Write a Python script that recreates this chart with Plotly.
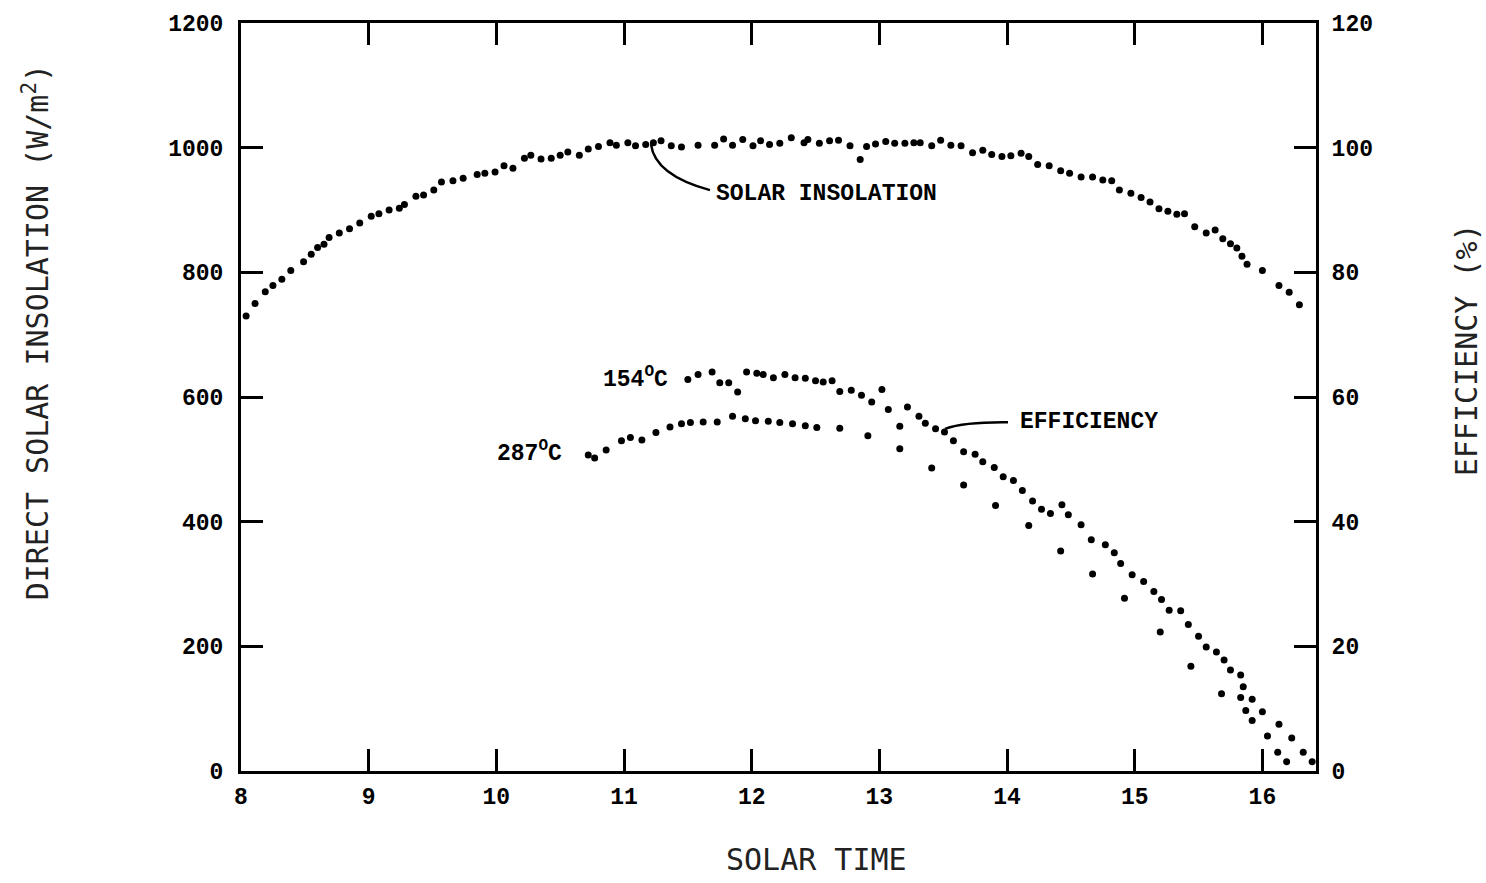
import plotly.graph_objects as go

# ---------------- data ----------------
ins_time = [8.04, 8.11, 8.19, 8.25, 8.32, 8.39, 8.49, 8.55, 8.60, 8.65,
            8.69, 8.77, 8.85, 8.93, 9.02, 9.08, 9.16, 9.24, 9.28, 9.37,
            9.43, 9.51, 9.57, 9.66, 9.74, 9.85, 9.91, 9.99, 10.06, 10.13,
            10.22, 10.27, 10.35, 10.43, 10.50, 10.56, 10.65, 10.72, 10.80, 10.89,
            10.94, 11.03, 11.09, 11.17, 11.23, 11.29, 11.37, 11.45, 11.58, 11.71,
            11.78, 11.85, 11.93, 12.01, 12.07, 12.14, 12.22, 12.31, 12.41, 12.44,
            12.53, 12.61, 12.68, 12.77, 12.85, 12.90, 12.97, 13.05, 13.12, 13.20,
            13.27, 13.32, 13.41, 13.48, 13.56, 13.64, 13.73, 13.81, 13.88, 13.96,
            14.03, 14.11, 14.17, 14.24, 14.33, 14.42, 14.49, 14.58, 14.67, 14.75,
            14.82, 14.88, 14.97, 15.05, 15.12, 15.19, 15.26, 15.33, 15.39, 15.47,
            15.56, 15.63, 15.69, 15.75, 15.80, 15.84, 15.88, 16.00, 16.13, 16.21, 16.29]
ins_value = [730, 750, 769, 779, 789, 803, 817, 829, 840, 845,
             856, 863, 870, 879, 890, 894, 900, 903, 909, 922,
             924, 932, 945, 947, 951, 957, 959, 961, 971, 967,
             983, 988, 982, 983, 988, 993, 988, 998, 1002, 1008,
             1004, 1008, 1003, 1005, 1008, 1011, 1003, 1001, 1004, 1004,
             1014, 1004, 1013, 1003, 1011, 1005, 1007, 1016, 1008, 1013,
             1007, 1011, 1012, 1003, 981, 1002, 1006, 1010, 1007, 1007,
             1008, 1008, 1003, 1012, 1004, 1003, 992, 996, 989, 986,
             987, 991, 986, 973, 971, 963, 959, 953, 953, 948,
             947, 932, 927, 920, 913, 902, 898, 893, 894, 873,
             863, 868, 854, 846, 839, 826, 813, 803, 779, 768, 748]

eff154_time = [11.50, 11.58, 11.69, 11.75, 11.82, 11.89, 11.96, 12.04, 12.09, 12.17,
               12.26, 12.34, 12.42, 12.50, 12.56, 12.63, 12.69, 12.78, 12.86, 12.94,
               13.02, 13.07, 13.16, 13.22, 13.31, 13.36, 13.44, 13.51, 13.58, 13.66,
               13.75, 13.81, 13.90, 13.97, 14.05, 14.12, 14.20, 14.27, 14.34, 14.43,
               14.48, 14.58, 14.66, 14.77, 14.84, 14.89, 14.98, 15.07, 15.15, 15.21,
               15.27, 15.36, 15.42, 15.50, 15.56, 15.64, 15.70, 15.75, 15.83, 15.85,
               15.92, 16.00, 16.13, 16.23, 16.32, 16.39]
eff154_value = [62.8, 63.6, 64.0, 62.3, 62.3, 60.8, 64.0, 63.8, 63.6, 63.1,
                63.6, 63.1, 63.0, 62.6, 62.4, 62.6, 60.9, 61.1, 60.3, 59.2,
                61.2, 58.0, 55.3, 58.4, 56.9, 55.8, 54.9, 54.4, 53.0, 51.2,
                50.8, 49.6, 48.7, 47.2, 46.6, 45.0, 43.3, 42.0, 41.3, 42.7,
                41.1, 39.5, 37.1, 36.3, 35.0, 33.3, 31.5, 30.4, 28.8, 27.5,
                25.8, 25.7, 23.5, 21.6, 19.9, 19.1, 17.8, 16.2, 15.4, 13.5,
                11.5, 9.5, 7.5, 5.3, 3.0, 1.5]

eff287_time = [10.72, 10.77, 10.86, 10.98, 11.05, 11.14, 11.25, 11.36, 11.45, 11.52,
               11.62, 11.73, 11.85, 11.95, 12.03, 12.13, 12.22, 12.32, 12.42, 12.51,
               12.69, 12.91, 13.16, 13.41, 13.66, 13.91, 14.17, 14.42, 14.67, 14.92,
               15.20, 15.44, 15.68, 15.83, 15.87, 15.92, 16.04, 16.12, 16.19]
eff287_value = [50.7, 50.2, 51.5, 53.0, 53.5, 53.1, 54.3, 55.2, 55.7, 55.9,
                56.0, 56.0, 56.9, 56.5, 56.2, 56.1, 55.9, 55.7, 55.4, 55.1,
                55.0, 53.8, 51.7, 48.6, 45.9, 42.6, 39.4, 35.3, 31.6, 27.7,
                22.3, 16.8, 12.4, 11.8, 9.7, 8.1, 5.6, 3.0, 1.5]

assert len(ins_time) == len(ins_value)
assert len(eff154_time) == len(eff154_value)
assert len(eff287_time) == len(eff287_value)

x_ticks = [8, 9, 10, 11, 12, 13, 14, 15, 16]
y_ticks = [0, 200, 400, 600, 800, 1000, 1200]
y2_ticks = [0, 20, 40, 60, 80, 100, 120]

# ---------------- figure ----------------
TICK_FONT = dict(family="Liberation Mono", size=23, color="black", weight="bold")
TITLE_FONT = dict(family="DejaVu Sans Mono", size=30, color="#222222")
MARK = dict(color="black", size=7)

fig = go.Figure()
fig.add_trace(go.Scatter(x=ins_time, y=ins_value, mode="markers", marker=MARK,
                         name="Solar insolation", showlegend=False))
fig.add_trace(go.Scatter(x=eff154_time, y=eff154_value, mode="markers", marker=MARK,
                         name="Efficiency 154 C", yaxis="y2", showlegend=False))
fig.add_trace(go.Scatter(x=eff287_time, y=eff287_value, mode="markers", marker=MARK,
                         name="Efficiency 287 C", yaxis="y2", showlegend=False))

L, R, T, B = 241, 1316, 19, 771
W, H = 1486, 883


def px(x):
    return (x - L) / (R - L)


def py(y):
    return (B - y) / (B - T)


axis_common = dict(showline=True, linecolor="black", linewidth=3, ticks="inside",
                   ticklen=22, tickwidth=3, tickcolor="black", showgrid=False,
                   zeroline=False, tickfont=TICK_FONT)

fig.update_layout(
    width=W, height=H,
    margin=dict(l=L, r=W - R, t=T, b=H - B),
    paper_bgcolor="white", plot_bgcolor="white",
    xaxis=dict(range=[8, 16.42], tickvals=x_ticks, ticktext=[str(v) for v in x_ticks],
               mirror="ticks", ticklabelstandoff=2, **axis_common),
    yaxis=dict(range=[0, 1200], tickvals=y_ticks, ticktext=[str(v) for v in y_ticks],
               ticklabelstandoff=10, **axis_common),
    yaxis2=dict(range=[0, 120], tickvals=y2_ticks, ticktext=[str(v) for v in y2_ticks],
                overlaying="y", side="right", ticklabelstandoff=8, **axis_common),
)

ann_font = dict(family="Liberation Mono", size=23, color="black", weight="bold")
annotations = [
    dict(text="SOLAR INSOLATION", x=px(714), y=py(191), xanchor="left", yanchor="middle", font=ann_font),
    dict(text="EFFICIENCY", x=px(1018), y=py(420), xanchor="left", yanchor="middle", font=ann_font),
    dict(text="154<sup>O</sup>C", x=px(601), y=py(376), xanchor="left", yanchor="middle", font=ann_font),
    dict(text="287<sup>O</sup>C", x=px(495), y=py(450), xanchor="left", yanchor="middle", font=ann_font),
    dict(text="DIRECT SOLAR INSOLATION (W/m<sup>2</sup>)", x=px(36), y=py(330), textangle=-90,
         xanchor="center", yanchor="middle", font=TITLE_FONT),
    dict(text="EFFICIENCY (%)", x=px(1466), y=py(348), textangle=-90,
         xanchor="center", yanchor="middle", font=TITLE_FONT),
    dict(text="SOLAR TIME", x=px(816), y=py(860), xanchor="center", yanchor="middle", font=TITLE_FONT),
]
for a in annotations:
    a.update(xref="paper", yref="paper", showarrow=False)
fig.update_layout(annotations=annotations)


def path(points):
    (x0, y0), (cx, cy), (x1, y1) = points
    return f"M {px(x0)},{py(y0)} Q {px(cx)},{py(cy)} {px(x1)},{py(y1)}"


fig.update_layout(shapes=[
    dict(type="path", xref="paper", yref="paper",
         path=path([(710, 187), (655, 172), (651, 141)]),
         line=dict(color="black", width=2.5)),
    dict(type="path", xref="paper", yref="paper",
         path=path([(1008, 420.5), (965, 420), (945, 427)]),
         line=dict(color="black", width=2.5)),
])

fig.write_html("out.html")
